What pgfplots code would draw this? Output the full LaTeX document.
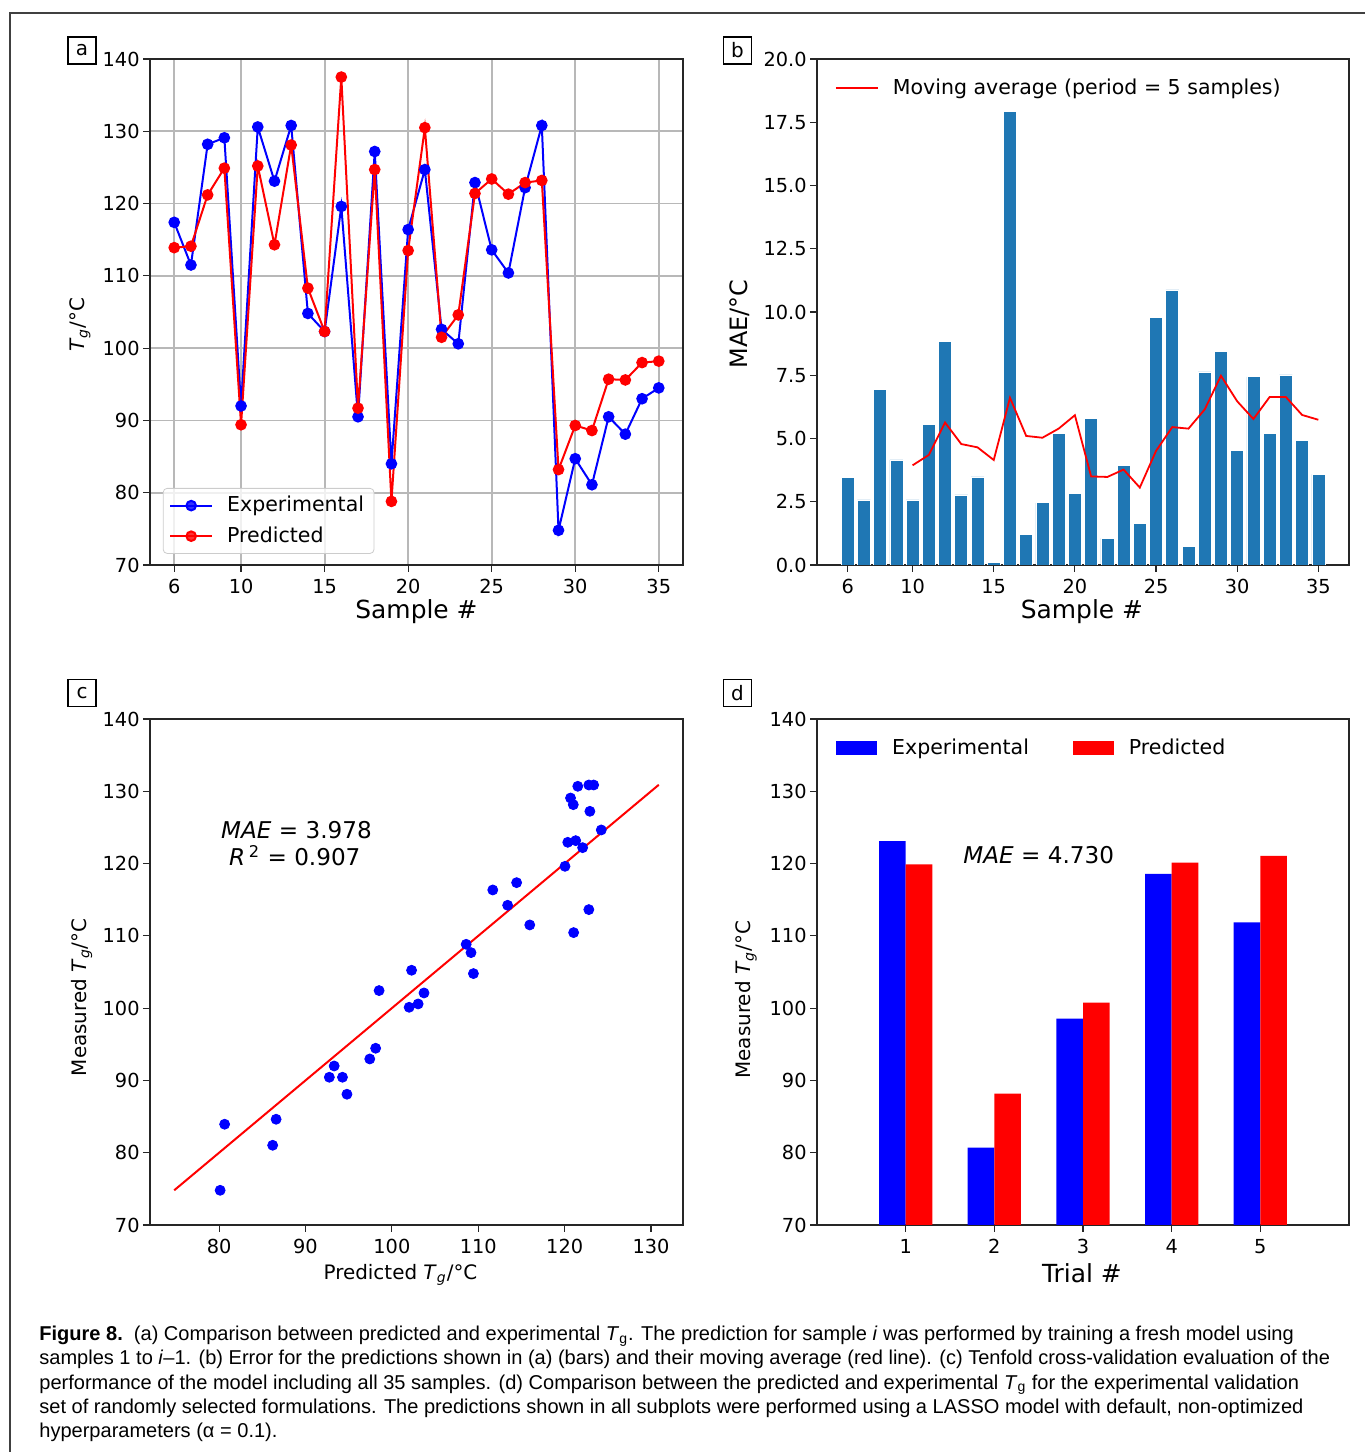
\documentclass[border=0pt]{standalone}
\usepackage{pgfplots}
\pgfplotsset{compat=1.18}
\usepackage{fontspec}
\setmainfont{DejaVu Sans}
\newfontfamily\capfont{Liberation Sans}
\definecolor{mplblue}{HTML}{1F77B4}
\definecolor{gridgray}{HTML}{B8B8B8}
\definecolor{legedge}{HTML}{CCCCCC}
\pgfplotsset{
  every axis/.append style={
    scale only axis,
    axis line style={black!85, line width=0.6bp},
    tick style={black!85, line width=0.6bp},
    tick align=outside,
    major tick length=3.5bp,
    xtick pos=left, ytick pos=left,
    tick label style={font=\fontsize{9.7}{11}\selectfont},
    yticklabel style={xshift=1.8bp},
    /pgf/number format/assume math mode=true,
  },
  linelegend/.style={legend image code/.code={
    \draw[mark repeat=2,mark phase=2,##1] plot coordinates {(0bp,0bp) (10.5bp,0bp) (21bp,0bp)};}},
  rectlegend/.style={legend image code/.code={
    \fill[##1] (0bp,-3.5bp) rectangle (20.5bp,3.5bp);}},
}
\begin{document}
\begin{tikzpicture}
\path[use as bounding box] (0,0) rectangle (682.5bp,726bp);
\draw[line width=1bp, black!75] (5bp,0) -- (5bp,719.5bp) -- (682.5bp,719.5bp);

% panel labels
\foreach \lab/\x/\y in {a/41/700.75, b/368.75/700.75, c/41/379.5, d/368.75/379.5}{
  \node[draw, line width=0.6bp, minimum width=14bp, minimum height=13.5bp, inner sep=0pt,
        font=\fontsize{10}{12}\selectfont] at (\x bp,\y bp) {\lab};
}

% ---------------- panel a
\begin{axis}[at={(75bp,443.5bp)}, anchor=south west, width=266.5bp, height=253bp,
  xmin=4.55, xmax=36.45, ymin=70, ymax=140,
  xtick={6,10,15,20,25,30,35}, ytick={70,80,...,140},
  grid=major, grid style={gridgray, line width=0.9bp},
  xlabel={Sample \#}, ylabel={\textit{T}\textsubscript{\textit{g}}/°C},
  xlabel style={font=\fontsize{12.5}{14}\selectfont, at={(axis description cs:0.5,-0.093)}, anchor=center},
  ylabel style={font=\fontsize{10}{12}\selectfont, at={(axis description cs:-0.131,0.475)}, anchor=center},
  legend style={at={(0.024,0.022)}, anchor=south west, draw=legedge, rounded corners=2bp,
    fill=white, fill opacity=0.8, text opacity=1, font=\fontsize{10.3}{12}\selectfont,
    row sep=2bp, inner xsep=3bp, inner ysep=2bp, cells={anchor=west},
    /tikz/every odd column/.append style={column sep=5bp}},
  linelegend,
]
\addplot[blue, line width=1bp, mark=*, mark size=2.4bp, mark options={fill=blue, draw=blue}] coordinates {
(6,117.4)(7,111.5)(8,128.2)(9,129.1)(10,92.0)(11,130.6)(12,123.1)(13,130.8)(14,104.8)(15,102.3)(16,119.6)(17,90.5)(18,127.2)(19,84.0)(20,116.4)(21,124.7)(22,102.6)(23,100.6)(24,122.9)(25,113.6)(26,110.4)(27,122.2)(28,130.8)(29,74.8)(30,84.7)(31,81.1)(32,90.5)(33,88.1)(34,93.0)(35,94.5)};
\addlegendentry{Experimental}
\addplot[red, line width=1bp, mark=*, mark size=2.4bp, mark options={fill=red, draw=red}] coordinates {
(6,113.9)(7,114.1)(8,121.2)(9,124.9)(10,89.4)(11,125.2)(12,114.3)(13,128.1)(14,108.3)(15,102.3)(16,137.5)(17,91.7)(18,124.7)(19,78.8)(20,113.5)(21,130.5)(22,101.5)(23,104.6)(24,121.4)(25,123.4)(26,121.3)(27,122.9)(28,123.2)(29,83.2)(30,89.3)(31,88.6)(32,95.7)(33,95.6)(34,98.0)(35,98.2)};
\addlegendentry{Predicted}
\end{axis}

% ---------------- panel b
\begin{axis}[at={(408.5bp,443.5bp)}, anchor=south west, width=266bp, height=253bp,
  xmin=4.11, xmax=36.89, ymin=0, ymax=20,
  xtick={6,10,15,20,25,30,35}, ytick={0,2.5,...,20},
  yticklabel style={/pgf/number format/.cd, fixed, fixed zerofill, precision=1},
  xlabel={Sample \#}, ylabel={MAE/°C},
  xlabel style={font=\fontsize{12.5}{14}\selectfont, at={(axis description cs:0.498,-0.093)}, anchor=center},
  ylabel style={font=\fontsize{12}{14}\selectfont, at={(axis description cs:-0.145,0.476)}, anchor=center},
  legend style={at={(0.022,0.978)}, anchor=north west, draw=none, fill=none,
    font=\fontsize{10.3}{12}\selectfont, cells={anchor=west},
    /tikz/every odd column/.append style={column sep=5bp}},
  linelegend,
]
\addplot[ybar, bar width=0.8, bar shift=0pt, fill=mplblue, draw=white, line width=0.3bp, forget plot] coordinates {
(6,3.45)(7,2.57)(8,6.94)(9,4.15)(10,2.57)(11,5.56)(12,8.85)(13,2.77)(14,3.48)(15,0.09)(16,17.92)(17,1.21)(18,2.46)(19,5.20)(20,2.82)(21,5.78)(22,1.05)(23,3.95)(24,1.63)(25,9.80)(26,10.87)(27,0.72)(28,7.63)(29,8.45)(30,4.53)(31,7.44)(32,5.20)(33,7.51)(34,4.93)(35,3.58)};
\addplot[red, line width=0.9bp] coordinates {
(10,3.94)(11,4.35)(12,5.63)(13,4.78)(14,4.65)(15,4.15)(16,6.61)(17,5.10)(18,5.03)(19,5.39)(20,5.92)(21,3.50)(22,3.48)(23,3.77)(24,3.06)(25,4.51)(26,5.45)(27,5.39)(28,6.15)(29,7.48)(30,6.47)(31,5.77)(32,6.64)(33,6.64)(34,5.93)(35,5.74)};
\addlegendentry{Moving average (period = 5 samples)}
\end{axis}

% ---------------- panel c
\begin{axis}[at={(75bp,113.5bp)}, anchor=south west, width=266.5bp, height=253bp,
  xmin=72.0, xmax=133.7, ymin=70, ymax=140,
  xtick={80,90,...,130}, ytick={70,80,...,140},
  xlabel={Predicted \textit{T}\textsubscript{\textit{g}}/°C}, ylabel={Measured \textit{T}\textsubscript{\textit{g}}/°C},
  xlabel style={font=\fontsize{10}{12}\selectfont, at={(axis description cs:0.47,-0.099)}, anchor=center},
  ylabel style={font=\fontsize{10}{12}\selectfont, at={(axis description cs:-0.128,0.45)}, anchor=center},
]
\addplot[only marks, mark=*, mark size=2.5bp, blue, mark options={fill=blue, draw=blue}] coordinates {
(80.12,74.8)(80.64,83.94)(86.2,81.03)(86.6,84.63)(92.76,90.44)(93.32,92.0)(94.28,90.44)(94.8,88.09)(97.44,92.97)(98.12,94.45)(98.52,102.43)(102.0,100.12)(102.28,105.24)(103.04,100.58)(103.72,102.1)(108.6,108.83)(109.16,107.68)(109.44,104.78)(111.68,116.35)(113.4,114.23)(114.44,117.36)(115.96,111.51)(120.04,119.62)(120.36,122.94)(120.68,129.07)(121.0,128.15)(121.04,110.45)(121.28,123.17)(121.52,130.69)(122.08,122.2)(122.8,113.63)(122.92,127.23)(122.8,130.87)(123.36,130.87)(124.24,124.65)};
\addplot[red, line width=1bp] coordinates {(74.8,74.8)(130.9,130.9)};
\node[anchor=west, inner sep=0pt, font=\fontsize{11.6}{13}\selectfont] at (axis cs:80.2,124.7) {\textit{MAE} = 3.978};
\node[anchor=west, inner sep=0pt, font=\fontsize{11.6}{13}\selectfont] at (axis cs:81.1,121.1) {\textit{R}\,\textsuperscript{2} = 0.907};
\end{axis}

% ---------------- panel d
\begin{axis}[at={(408.5bp,113.5bp)}, anchor=south west, width=266bp, height=253bp,
  xmin=0, xmax=6, ymin=70, ymax=140,
  xtick={1,2,3,4,5}, ytick={70,80,...,140},
  xlabel={Trial \#}, ylabel={Measured \textit{T}\textsubscript{\textit{g}}/°C},
  xlabel style={font=\fontsize{12.5}{14}\selectfont, at={(axis description cs:0.498,-0.095)}, anchor=center},
  ylabel style={font=\fontsize{10}{12}\selectfont, at={(axis description cs:-0.133,0.445)}, anchor=center},
  legend style={at={(0.024,0.978)}, anchor=north west, draw=none, fill=none,
    font=\fontsize{10.3}{12}\selectfont, legend columns=2, cells={anchor=west},
    /tikz/every odd column/.append style={column sep=5.5bp},
    /tikz/every even column/.append style={column sep=20bp}},
  rectlegend,
]
\addplot[ybar, bar width=0.3, bar shift=0pt, fill=blue, draw=none] coordinates {
(0.85,123.1)(1.85,80.7)(2.85,98.55)(3.85,118.56)(4.85,111.88)};
\addlegendentry{Experimental}
\addplot[ybar, bar width=0.3, bar shift=0pt, fill=red, draw=none] coordinates {
(1.15,119.9)(2.15,88.18)(3.15,100.77)(4.15,120.13)(5.15,121.05)};
\addlegendentry{Predicted}
\node[anchor=west, inner sep=0pt, font=\fontsize{11.6}{13}\selectfont] at (axis cs:1.647,121.2) {\textit{MAE} = 4.730};
\end{axis}

% ---------------- caption
\begin{scope}[every node/.style={anchor=base west, inner sep=0pt, font=\capfont\fontsize{10.05}{12}\selectfont}]
\node at (19.5bp,55.5bp) {\textbf{Figure 8.}\ \ (a) Comparison between predicted and experimental \textit{T}\textsubscript{g}. The prediction for sample \textit{i} was performed by training a fresh model using};
\node at (19.5bp,43.5bp) {samples 1 to \textit{i}–1. (b) Error for the predictions shown in (a) (bars) and their moving average (red line). (c) Tenfold cross-validation evaluation of the};
\node at (19.5bp,31.5bp) {performance of the model including all 35 samples. (d) Comparison between the predicted and experimental \textit{T}\textsubscript{g} for the experimental validation};
\node at (19.5bp,19.5bp) {set of randomly selected formulations. The predictions shown in all subplots were performed using a LASSO model with default, non-optimized};
\node at (19.5bp,7.5bp) {hyperparameters (α = 0.1).};
\end{scope}
\end{tikzpicture}
\end{document}
